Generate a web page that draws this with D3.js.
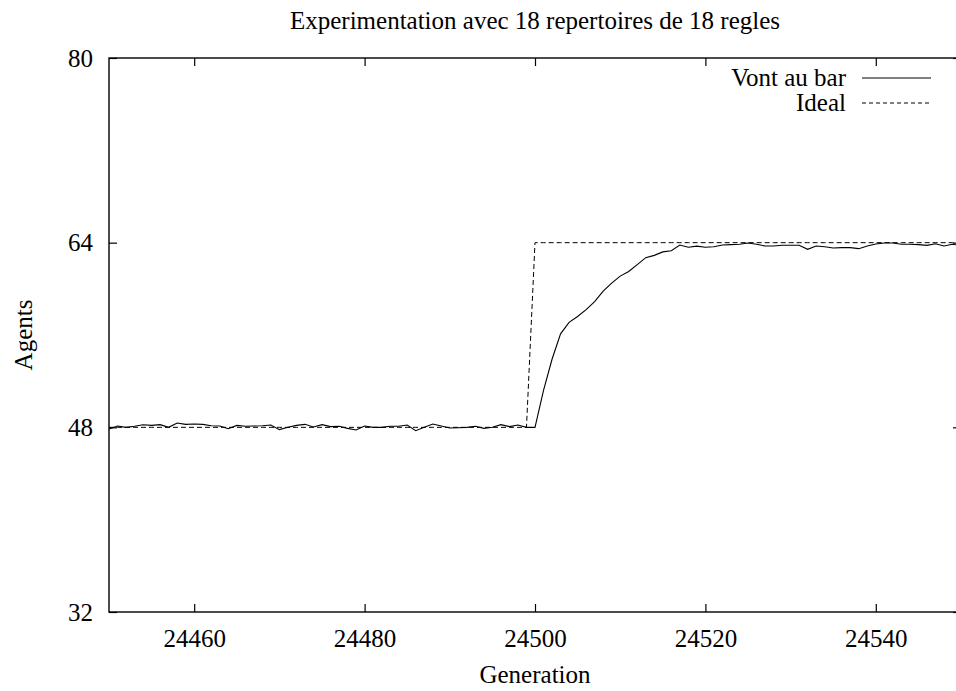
<!DOCTYPE html>
<html>
<head>
<meta charset="utf-8">
<script src="https://cdn.jsdelivr.net/npm/d3@7/dist/d3.min.js"></script>
<style>
  body { margin: 0; background: #fff; }
  svg { display: block; }
  text { font-family: "Liberation Serif", "Times New Roman", serif; font-size: 25px; fill: #000; }
</style>
</head>
<body>
<svg width="956" height="691"></svg>
<script>
  // generations shown on the x axis
  const firstGen = 24450;
  const lastGen = 24550;

  // agents going to the bar, one value per generation (24450 .. 24550)
  const vontAuBar = [
    47.86, 48.12, 48.00, 48.10, 48.23, 48.17, 48.23, 48.00, 48.38, 48.26,
    48.29, 48.26, 48.14, 48.12, 47.88, 48.17, 48.09, 48.12, 48.14, 48.20,
    47.80, 48.00, 48.17, 48.26, 48.03, 48.23, 48.06, 48.09, 47.91, 47.77,
    48.12, 48.00, 48.00, 48.09, 48.09, 48.20, 47.71, 48.00, 48.29, 48.12,
    47.94, 47.97, 48.00, 48.09, 47.91, 48.00, 48.23, 48.06, 48.20, 48.00,
    48.00, 51.20, 53.90, 56.10, 57.10, 57.60, 58.20, 58.90, 59.80, 60.50,
    61.10, 61.50, 62.10, 62.70, 62.90, 63.20, 63.30, 63.80, 63.60, 63.70,
    63.60, 63.65, 63.80, 63.83, 63.86, 63.97, 63.86, 63.71, 63.71, 63.77,
    63.77, 63.77, 63.42, 63.71, 63.65, 63.54, 63.57, 63.57, 63.48, 63.71,
    63.88, 63.97, 63.97, 63.86, 63.86, 63.83, 63.77, 63.91, 63.71, 63.86,
    63.77
  ];

  // ideal attendance: 48 before generation 24500, 64 from it on
  const ideal = [
    48, 48, 48, 48, 48, 48, 48, 48, 48, 48,
    48, 48, 48, 48, 48, 48, 48, 48, 48, 48,
    48, 48, 48, 48, 48, 48, 48, 48, 48, 48,
    48, 48, 48, 48, 48, 48, 48, 48, 48, 48,
    48, 48, 48, 48, 48, 48, 48, 48, 48, 48,
    64, 64, 64, 64, 64, 64, 64, 64, 64, 64,
    64, 64, 64, 64, 64, 64, 64, 64, 64, 64,
    64, 64, 64, 64, 64, 64, 64, 64, 64, 64,
    64, 64, 64, 64, 64, 64, 64, 64, 64, 64,
    64, 64, 64, 64, 64, 64, 64, 64, 64, 64,
    64
  ];

  const xTicks = [24460, 24480, 24500, 24520, 24540];
  const yTicks = [32, 48, 64, 80];
  const seriesNames = ['Vont au bar', 'Ideal'];

  const svg = d3.select('svg');
  const plot = { left: 109, right: 961, top: 58, bottom: 612 };
  const tickLen = 8;

  const x = d3.scaleLinear().domain([firstGen, lastGen]).range([plot.left, plot.right]);
  const y = d3.scaleLinear().domain([32, 80]).range([plot.bottom, plot.top]);

  const gens = d3.range(firstGen, lastGen + 1);

  // frame
  svg.append('rect')
    .attr('x', plot.left).attr('y', plot.top)
    .attr('width', plot.right - plot.left).attr('height', plot.bottom - plot.top)
    .attr('fill', 'none').attr('stroke', '#000').attr('stroke-width', 1.4);

  // mirrored inward ticks
  const axisStyle = g => {
    g.select('.domain').remove();
    g.selectAll('.tick line').attr('stroke', '#000').attr('stroke-width', 1.2);
    g.selectAll('.tick text').attr('fill', '#000');
    g.attr('font-size', null).attr('font-family', null);
  };

  svg.append('g')
    .attr('transform', `translate(0,${plot.bottom})`)
    .call(d3.axisBottom(x).tickValues(xTicks).tickFormat(d3.format('d'))
      .tickSizeInner(-tickLen).tickSizeOuter(0).tickPadding(17))
    .call(axisStyle);

  svg.append('g')
    .attr('transform', `translate(0,${plot.top})`)
    .call(d3.axisTop(x).tickValues(xTicks).tickFormat('')
      .tickSizeInner(-tickLen).tickSizeOuter(0))
    .call(axisStyle);

  svg.append('g')
    .attr('transform', `translate(${plot.left},0)`)
    .call(d3.axisLeft(y).tickValues(yTicks)
      .tickSizeInner(-tickLen).tickSizeOuter(0).tickPadding(16))
    .call(axisStyle);

  svg.append('g')
    .attr('transform', `translate(${plot.right},0)`)
    .call(d3.axisRight(y).tickValues(yTicks).tickFormat('')
      .tickSizeInner(-tickLen).tickSizeOuter(0))
    .call(axisStyle);

  // series
  const line = d3.line()
    .x((d, i) => x(gens[i]))
    .y(d => y(d));

  svg.append('path')
    .datum(ideal)
    .attr('d', line)
    .attr('fill', 'none')
    .attr('stroke', '#000')
    .attr('stroke-width', 1)
    .attr('stroke-dasharray', '5,3');

  svg.append('path')
    .datum(vontAuBar)
    .attr('d', line)
    .attr('fill', 'none')
    .attr('stroke', '#000')
    .attr('stroke-width', 1.1);

  // legend
  const legend = svg.append('g');
  seriesNames.forEach((name, i) => {
    const ly = 78 + i * 25;
    legend.append('text')
      .attr('x', 846).attr('y', ly)
      .attr('dy', '0.32em')
      .attr('text-anchor', 'end')
      .text(name);
    legend.append('line')
      .attr('x1', 862).attr('x2', 931)
      .attr('y1', ly).attr('y2', ly)
      .attr('stroke', '#000')
      .attr('stroke-width', 1)
      .attr('stroke-dasharray', i === 1 ? '4,3' : null);
  });

  // titles
  svg.append('text')
    .attr('x', (plot.left + plot.right) / 2).attr('y', 29)
    .attr('text-anchor', 'middle')
    .text('Experimentation avec 18 repertoires de 18 regles');

  svg.append('text')
    .attr('x', (plot.left + plot.right) / 2).attr('y', 683)
    .attr('text-anchor', 'middle')
    .text('Generation');

  svg.append('text')
    .attr('transform', `translate(32,${(plot.top + plot.bottom) / 2}) rotate(-90)`)
    .attr('text-anchor', 'middle')
    .text('Agents');
</script>
</body>
</html>
